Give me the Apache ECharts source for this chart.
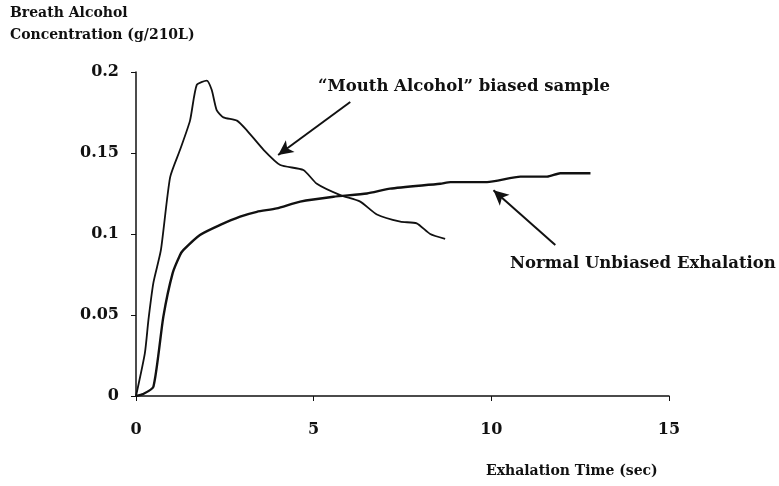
<!DOCTYPE html>
<html>
<head>
<meta charset="utf-8">
<script src="https://cdn.jsdelivr.net/npm/echarts@6/dist/echarts.min.js"></script>
<style>
  html, body { margin: 0; padding: 0; background: #fff; }
  #chart { width: 779px; height: 486px; }
</style>
</head>
<body>
<div id="chart"></div>
<script>
// exhalation time (sec) / breath alcohol (g/210L)
const mouthTime = [0, 0.25, 0.35, 0.49, 0.7, 0.96, 1.24, 1.52, 1.71, 1.99, 2.13, 2.27, 2.46, 2.84, 3.12, 3.59, 4.06, 4.71, 5.09, 5.75, 6.31, 6.78, 7.44, 7.9, 8.28, 8.7];
const mouthValue = [0, 0.0265, 0.047, 0.07, 0.09, 0.135, 0.152, 0.17, 0.192, 0.1947, 0.189, 0.1765, 0.172, 0.17, 0.164, 0.152, 0.1426, 0.1395, 0.131, 0.124, 0.12, 0.112, 0.1076, 0.1066, 0.1, 0.097];

const normalTime = [0, 0.2, 0.49, 0.77, 1.03, 1.24, 1.33, 1.8, 2.37, 2.93, 3.4, 3.96, 4.62, 5.56, 6.5, 7.15, 8.56, 8.85, 9.88, 10.82, 11.57, 11.94, 12.79];
const normalValue = [0, 0.0012, 0.0057, 0.049, 0.0757, 0.087, 0.09, 0.0994, 0.1056, 0.1107, 0.1137, 0.1158, 0.12, 0.123, 0.125, 0.128, 0.131, 0.132, 0.132, 0.1354, 0.1354, 0.1375, 0.1375];

const xTicks = [0, 5, 10, 15];
const yTicks = [0, 0.05, 0.1, 0.15, 0.2];

const serif = '"DejaVu Serif", "Liberation Serif", serif';

function pairs(xs, ys) {
  return xs.map((x, i) => [x, ys[i]]);
}

const arrowStyle = { color: '#111', width: 2, type: 'solid' };

const chart = echarts.init(document.getElementById('chart'), null, { renderer: 'canvas' });

chart.setOption({
  backgroundColor: '#fff',
  animation: false,
  grid: { left: 136, right: 110, top: 72, bottom: 90 },
  title: {
    text: 'Breath Alcohol\nConcentration (g/210L)',
    left: 10,
    top: 2,
    padding: 0,
    textStyle: { fontFamily: serif, fontWeight: 'bold', fontSize: 14, color: '#111', lineHeight: 22 }
  },
  xAxis: {
    type: 'value',
    min: 0,
    max: 15,
    interval: 5,
    axisLine: { show: true, lineStyle: { color: '#111', width: 1.5 } },
    axisTick: { show: true, length: 5, inside: false, lineStyle: { color: '#111' } },
    splitLine: { show: false },
    axisLabel: {
      margin: 26,
      fontFamily: serif, fontWeight: 'bold', fontSize: 16, color: '#111',
      formatter: v => xTicks.includes(v) ? String(v) : ''
    }
  },
  yAxis: {
    type: 'value',
    min: 0,
    max: 0.2,
    interval: 0.05,
    axisLine: { show: true, lineStyle: { color: '#111', width: 1.5 } },
    axisTick: { show: true, length: 5, inside: false, lineStyle: { color: '#111' } },
    splitLine: { show: false },
    axisLabel: {
      margin: 17,
      fontFamily: serif, fontWeight: 'bold', fontSize: 16, color: '#111',
      formatter: v => {
        const t = yTicks.find(y => Math.abs(y - v) < 1e-9);
        return t === undefined ? '' : String(t);
      }
    }
  },
  series: [
    {
      name: 'Mouth Alcohol',
      type: 'line',
      data: pairs(mouthTime, mouthValue),
      showSymbol: false,
      smooth: 0.2,
      lineStyle: { color: '#111', width: 1.8 },
      markLine: {
        silent: true,
        symbol: ['none', 'arrow'],
        symbolSize: [11, 15],
        label: { show: false },
        lineStyle: arrowStyle,
        data: [[{ coord: [6.03, 0.1815] }, { coord: [4.0, 0.1488] }]]
      }
    },
    {
      name: 'Normal',
      type: 'line',
      data: pairs(normalTime, normalValue),
      showSymbol: false,
      smooth: 0.2,
      lineStyle: { color: '#111', width: 2.4 },
      markLine: {
        silent: true,
        symbol: ['none', 'arrow'],
        symbolSize: [11, 15],
        label: { show: false },
        lineStyle: arrowStyle,
        data: [[{ coord: [11.8, 0.0932] }, { coord: [10.06, 0.127] }]]
      }
    }
  ],
  graphic: [
    {
      type: 'text', left: 318, top: 78,
      style: { text: '\u201cMouth Alcohol\u201d biased sample', font: 'bold 16.5px ' + serif, fill: '#111' }
    },
    {
      type: 'text', left: 510, top: 255,
      style: { text: 'Normal Unbiased Exhalation', font: 'bold 16.5px ' + serif, fill: '#111' }
    },
    {
      type: 'text', left: 486, top: 464,
      style: { text: 'Exhalation Time (sec)', font: 'bold 14px ' + serif, fill: '#111' }
    }
  ]
});
</script>
</body>
</html>
